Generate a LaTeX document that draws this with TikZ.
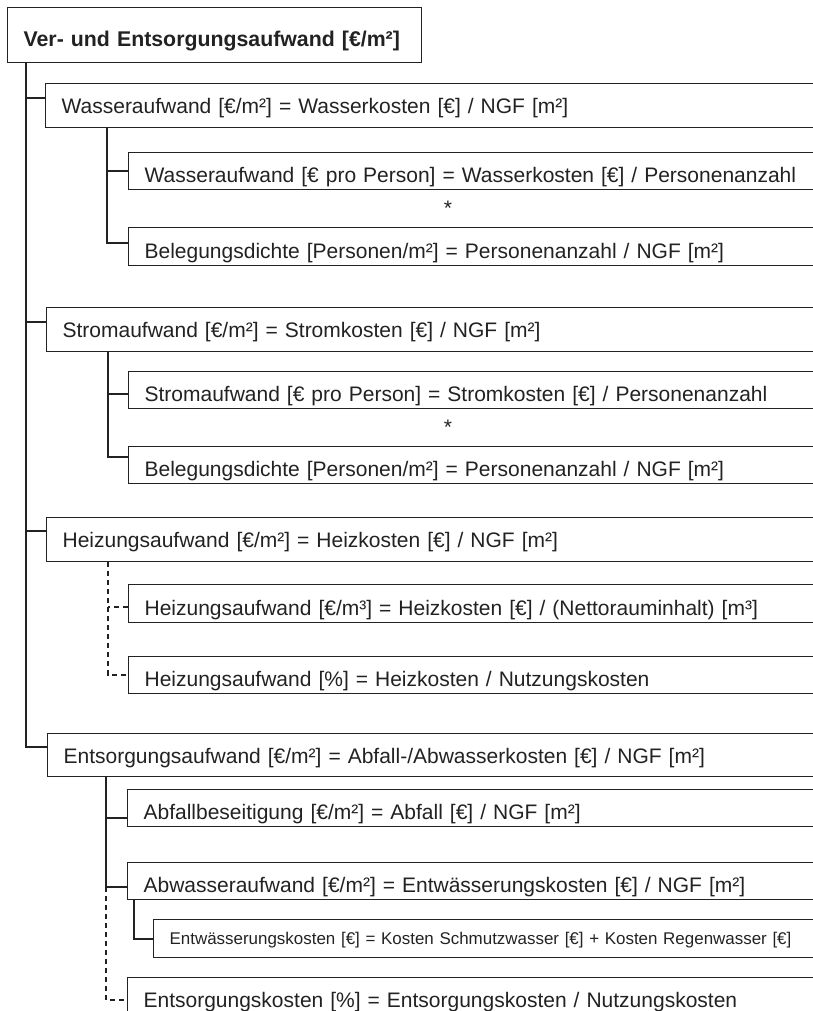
\documentclass[tikz,border=0pt]{standalone}
\usepackage{fontspec}
\setmainfont{Liberation Sans}
\definecolor{lc}{HTML}{222222}
\newcommand\fsT{\fontsize{21.3pt}{25pt}\selectfont}
\newcommand\fsA{\fontsize{21pt}{25pt}\selectfont}
\newcommand\fsC{\fontsize{16.95pt}{20pt}\selectfont}
\begin{document}
\begin{tikzpicture}[x=1pt,y=-1pt,
  base/.style={draw=lc, line width=1.2pt, anchor=north west, inner xsep=16pt, inner ysep=0pt, align=left, font=\fsA, text=lc},
  topbox/.style={base, font=\fsT\bfseries, text width=382pt, minimum height=55pt, text height=24pt, text depth=1.6pt},
  lvA/.style={base, minimum height=44pt, text height=18pt, text depth=2pt},
  lvB/.style={base, minimum height=37pt, text height=24pt, text depth=1pt},
  lvC/.style={base, font=\fsC, minimum height=38pt, text height=15pt, text depth=3pt},
  ast/.style={font=\fsA, inner sep=0pt, text=lc},
  conn/.style={draw=lc, line width=1.2pt},
  dsh/.style={dash pattern=on 5pt off 4pt}]
\useasboundingbox (0,0) rectangle (813,1011);
\clip (0,0) rectangle (813,1011);

\node[topbox] (top) at (7,7) {Ver- und Entsorgungsaufwand [€/m²]};

\node[lvA, text width=753pt] (wasser) at (45,83) {Wasseraufwand [€/m²] = Wasserkosten [€] / NGF [m²]};
\node[lvB, text width=670pt] (w1) at (128,152) {Wasseraufwand [€ pro Person] = Wasserkosten [€] / Personenanzahl};
\node[ast] (ast1) at (448,208) {*};
\node[lvB, text width=670pt, minimum height=38pt] (w2) at (128,227) {Belegungsdichte [Personen/m²] = Personenanzahl / NGF [m²]};

\node[lvA, text width=752pt] (strom) at (46,307) {Stromaufwand [€/m²] = Stromkosten [€] / NGF [m²]};
\node[lvB, text width=670pt] (s1) at (128,371) {Stromaufwand [€ pro Person] = Stromkosten [€] / Personenanzahl};
\node[ast] (ast2) at (448,427) {*};
\node[lvB, text width=670pt] (s2) at (128,446) {Belegungsdichte [Personen/m²] = Personenanzahl / NGF [m²]};

\node[lvA, text width=752pt] (heiz) at (46,517) {Heizungsaufwand [€/m²] = Heizkosten [€] / NGF [m²]};
\node[lvB, text width=670pt, minimum height=38pt] (h1) at (128,584) {Heizungsaufwand [€/m³] = Heizkosten [€] / (Nettorauminhalt) [m³]};
\node[lvB, text width=670pt] (h2) at (128,656) {Heizungsaufwand [\%] = Heizkosten / Nutzungskosten};

\node[lvA, text width=751pt, minimum height=43pt] (ents) at (47,733) {Entsorgungsaufwand [€/m²] = Abfall-/Abwasserkosten [€] / NGF [m²]};
\node[lvB, text width=671pt] (e1) at (127,789) {Abfallbeseitigung [€/m²] = Abfall [€] / NGF [m²]};
\node[lvB, text width=671pt] (e2) at (127,862) {Abwasseraufwand [€/m²] = Entwässerungskosten [€] / NGF [m²]};
\node[lvC, text width=645pt] (e21) at (153,919) {Entwässerungskosten [€] = Kosten Schmutzwasser [€] + Kosten Regenwasser [€]};
\node[lvB, text width=671pt] (e3) at (127,977) {Entsorgungskosten [\%] = Entsorgungskosten / Nutzungskosten};

% trunk
\coordinate (t0) at ([xshift=19pt]top.south west);
\draw[conn] (t0) |- ([yshift=-14pt]ents.north west);
\draw[conn] ([yshift=-15pt]wasser.north west) -| (t0);
\draw[conn] ([yshift=-15pt]strom.north west) -| (t0);
\draw[conn] ([yshift=-14pt]heiz.north west) -| (t0);

% Wasser
\coordinate (wv) at ([xshift=62pt]wasser.south west);
\draw[conn] (wv) |- ([yshift=-16pt]w2.north west);
\draw[conn] ([yshift=-19pt]w1.north west) -| (wv);

% Strom
\coordinate (sv) at ([xshift=62pt]strom.south west);
\draw[conn] (sv) |- ([yshift=-11pt]s2.north west);
\draw[conn] ([yshift=-23pt]s1.north west) -| (sv);

% Heizung (dashed)
\coordinate (hv) at ([xshift=62pt]heiz.south west);
\coordinate (h1c) at ([yshift=-23pt]h1.north west);
\draw[conn,dsh] (hv) |- ([yshift=-19pt]h2.north west);
\draw[conn,dsh] (h1c) -- (h1c -| hv);

% Entsorgung
\coordinate (ev) at ([xshift=59pt]ents.south west);
\coordinate (e2c) at ([yshift=-25pt]e2.north west);
\draw[conn] (ev) |- (e2c);
\draw[conn] ([yshift=-29pt]e1.north west) -| (ev);
\draw[conn,dsh] (e2c -| ev) |- ([yshift=-23pt]e3.north west);
\draw[conn] ([xshift=7pt]e2.south west) |- ([yshift=-20pt]e21.north west);
\end{tikzpicture}
\end{document}
